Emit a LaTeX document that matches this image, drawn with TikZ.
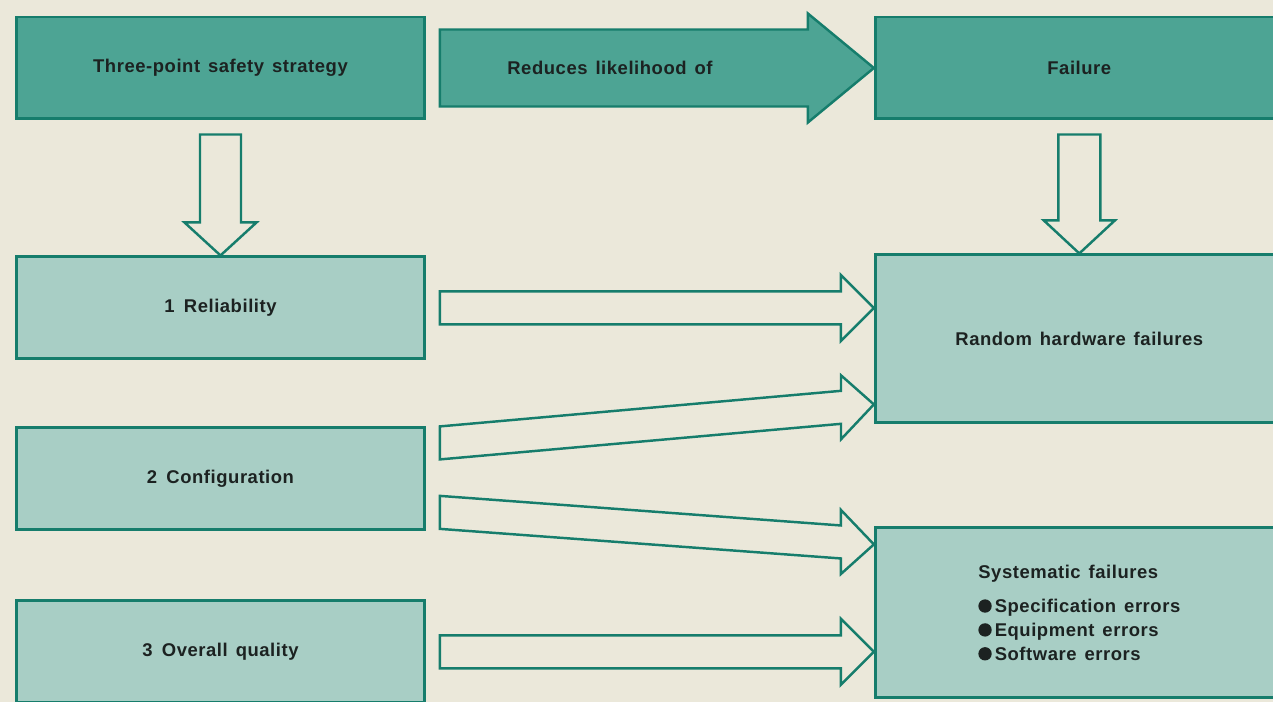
\documentclass[tikz,border=0pt]{standalone}
\usepackage{fontspec}
\newfontfamily\labelfont[LetterSpace=3,WordSpace=1.4]{Liberation Sans}
\usepackage{tikz}
\usetikzlibrary{positioning,calc}

\definecolor{paper}{RGB}{235,232,218}
\definecolor{tealdark}{RGB}{77,164,148}
\definecolor{teallight}{RGB}{168,206,197}
\definecolor{tealline}{RGB}{22,125,108}
\definecolor{ink}{RGB}{28,34,33}

% fat arrow, tail and tip given; shaft half, head half, head length
\newcommand{\blockarrow}[6][]{%
  \draw[#1] let \p1=#2, \p2=#3, \p3=($#3!#6!#2$) in
    (\x1,\y1+#4) -- (\x3,\y3+#4) -- (\x3,\y3+#5) -- (\x2,\y2)
    -- (\x3,\y3-#5) -- (\x3,\y3-#4) -- (\x1,\y1-#4) -- cycle;}
% same, pointing down
\newcommand{\droparrow}[6][]{%
  \draw[#1] let \p1=#2, \p2=#3 in
    (\x2-#4,\y1) -- (\x2-#4,\y2+#6) -- (\x2-#5,\y2+#6) -- (\x2,\y2)
    -- (\x2+#5,\y2+#6) -- (\x2+#4,\y2+#6) -- (\x2+#4,\y1) -- cycle;}
\newcommand{\dotmark}{\tikz[baseline=-3.7pt]\fill[ink] (0,0) circle (3.8pt);}

\begin{document}
\begin{tikzpicture}[
  x=0.02cm, y=-0.02cm,
  box/.style={draw=tealline, line width=1.7pt, minimum width=8.16cm, minimum height=2.04cm,
    align=center, text=ink, inner sep=0pt, font=\labelfont\bfseries\fontsize{10.5}{12}\selectfont},
  darkbox/.style={box, fill=tealdark},
  lightbox/.style={box, fill=teallight},
  hollow/.style={draw=tealline, line width=1.4pt, fill=paper},
  bigarrow/.style={draw=tealline, line width=1.4pt, fill=tealdark},
]
\fill[paper] (0,0) rectangle (1273,702);
\clip (0,0) rectangle (1273,702);

\node[darkbox] (strat) at (220.5,68) {Three-point safety strategy};
\node[lightbox, below=2.7cm of strat] (rel) {1\enspace Reliability};
\node[lightbox, below=1.32cm of rel] (conf) {2\enspace Configuration};
\node[lightbox, below=1.36cm of conf] (qual) {3\enspace Overall quality};
\node[darkbox, right=8.96cm of strat] (fail) {Failure};
\node[lightbox, below=2.66cm of fail, minimum height=3.36cm] (rand) {Random hardware failures};
\node[lightbox, below=2.04cm of rand, minimum height=3.4cm, align=left,
  font=\labelfont\bfseries\fontsize{10.5}{13.6}\selectfont] (sys)
  {Systematic failures\\[5.7pt]\dotmark\,Specification errors\\\dotmark\,Equipment errors\\\dotmark\,Software errors};

% main arrow
\coordinate (t0) at ($(strat.east)+(14,0)$);
\blockarrow[bigarrow]{(t0)}{(fail.west)}{0.77cm}{1.09cm}{1.32cm}
\node[text=ink, font=\labelfont\bfseries\fontsize{10.5}{12}\selectfont] (reduce)
  at ($(t0)+(170,0)$) {Reduces likelihood of};

% down arrows
\coordinate (d1) at ($(strat.south)+(0,14)$);
\coordinate (d2) at ($(fail.south)+(0,14)$);
\droparrow[hollow]{(d1)}{(rel.north)}{0.41cm}{0.72cm}{0.66cm}
\droparrow[hollow]{(d2)}{(rand.north)}{0.42cm}{0.71cm}{0.66cm}

% strategy to failure kind
\coordinate (t1) at ($(rel.east)+(14,0)$);
\coordinate (h1) at (rand.west |- t1);
\coordinate (t2) at ($(conf.north east)+(14,16.5)$);
\coordinate (h2) at ($(rand.south west)+(0,-20)$);
\coordinate (t3) at ($(conf.south east)+(14,-19)$);
\coordinate (h3) at ($(sys.north west)+(0,18)$);
\coordinate (t4) at ($(qual.east)+(14,0)$);
\coordinate (h4) at (sys.west |- t4);
\blockarrow[hollow]{(t1)}{(h1)}{0.33cm}{0.66cm}{0.66cm}
\blockarrow[hollow]{(t2)}{(h2)}{0.33cm}{0.64cm}{0.66cm}
\blockarrow[hollow]{(t3)}{(h3)}{0.33cm}{0.64cm}{0.66cm}
\blockarrow[hollow]{(t4)}{(h4)}{0.33cm}{0.66cm}{0.66cm}
\end{tikzpicture}
\end{document}
